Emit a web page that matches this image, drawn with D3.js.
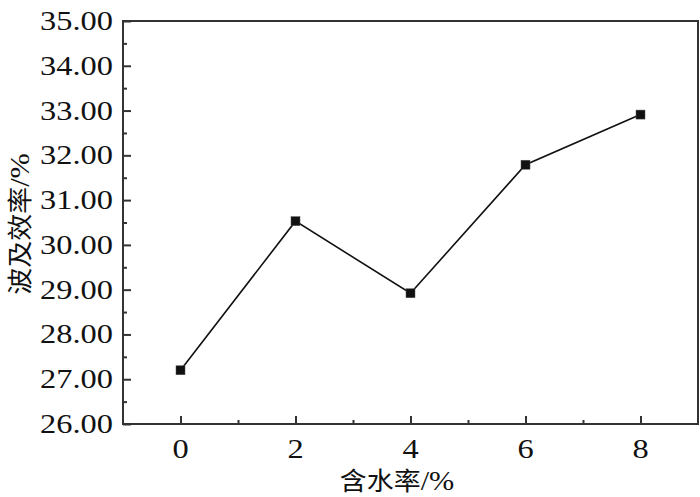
<!DOCTYPE html>
<html>
<head>
<meta charset="utf-8">
<script src="https://cdn.jsdelivr.net/npm/d3@7"></script>
<style>
  body { margin: 0; background: #fff; }
  svg { display: block; }
  text { fill: #111; }
</style>
</head>
<body>
<svg width="700" height="497"></svg>
<script>
// water content (%) vs sweep efficiency (%)
var waterContent = [0, 2, 4, 6, 8];
var sweepEff = [27.20, 30.53, 28.92, 31.79, 32.91];
var xTicks = [0, 2, 4, 6, 8];
var xMinor = [1, 3, 5, 7];
var yTicks = [26, 27, 28, 29, 30, 31, 32, 33, 34, 35];
var yMinor = [26.5, 27.5, 28.5, 29.5, 30.5, 31.5, 32.5, 33.5, 34.5];
var xTitle = "含水率/%";
var yTitle = "波及效率/%";

var svg = d3.select("svg"),
    margin = {top: 21, right: 2, bottom: 73, left: 123},
    width = 700 - margin.left - margin.right,
    height = 497 - margin.top - margin.bottom;

var stretch = 1.2,
    serif = "'Liberation Serif', 'Times New Roman', serif",
    cjk = "'Noto Sans CJK SC', sans-serif";

var x = d3.scaleLinear().domain([-1, 9]).range([0, width]);
var y = d3.scaleLinear().domain([26, 35]).range([height, 0]);

var g = svg.append("g")
    .attr("transform", "translate(" + margin.left + "," + margin.top + ")");

// frame
g.append("rect")
    .attr("width", width)
    .attr("height", height)
    .attr("fill", "none")
    .attr("stroke", "#333")
    .attr("stroke-width", 2);

// inward ticks
function ticks(axis, values, size) {
  return axis.tickValues(values).tickSize(-size).tickFormat("");
}
g.append("g").attr("transform", "translate(0," + height + ")")
    .call(ticks(d3.axisBottom(x), xTicks, 8));
g.append("g").attr("transform", "translate(0," + height + ")")
    .call(ticks(d3.axisBottom(x), xMinor, 4));
g.append("g").call(ticks(d3.axisLeft(y), yTicks, 8));
g.append("g").call(ticks(d3.axisLeft(y), yMinor, 4));
g.selectAll(".domain").remove();
g.selectAll(".tick line").attr("stroke", "#333").attr("stroke-width", 2);

// tick labels
g.selectAll(".ylab").data(yTicks).enter().append("text")
    .attr("class", "ylab")
    .attr("transform", function(d) { return "translate(-10," + (y(d) + 9) + ") scale(" + stretch + ",1)"; })
    .attr("text-anchor", "end")
    .style("font-family", serif)
    .style("font-size", "27px")
    .text(function(d) { return d.toFixed(2); });

g.selectAll(".xlab").data(xTicks).enter().append("text")
    .attr("class", "xlab")
    .attr("transform", function(d) { return "translate(" + x(d) + "," + (height + 34) + ") scale(" + stretch + ",1)"; })
    .attr("text-anchor", "middle")
    .style("font-family", serif)
    .style("font-size", "27px")
    .text(function(d) { return d; });

// axis titles
function title(sel, txt) {
  var t = sel.append("text").attr("text-anchor", "middle");
  t.append("tspan").style("font-family", cjk).style("font-size", "25px").text(txt.slice(0, -2));
  t.append("tspan").style("font-family", serif).style("font-size", "28px").text(txt.slice(-2));
  return t;
}
title(svg.append("g").attr("transform", "translate(397,490) scale(1.08,1)"), xTitle);
title(svg.append("g").attr("transform", "translate(29,224) rotate(-90) scale(1.08,1)"), yTitle);

// series
var pts = waterContent.map(function(d, i) { return [d, sweepEff[i]]; });

g.append("path")
    .datum(pts)
    .attr("fill", "none")
    .attr("stroke", "#111")
    .attr("stroke-width", 1.6)
    .attr("d", d3.line()
        .x(function(d) { return x(d[0]); })
        .y(function(d) { return y(d[1]); }));

g.selectAll(".pt").data(pts).enter().append("rect")
    .attr("class", "pt")
    .attr("x", function(d) { return x(d[0]) - 4.5; })
    .attr("y", function(d) { return y(d[1]) - 4.5; })
    .attr("width", 9)
    .attr("height", 9)
    .attr("fill", "#111")
    .attr("stroke", "#555")
    .attr("stroke-width", 0.5);
</script>
</body>
</html>
